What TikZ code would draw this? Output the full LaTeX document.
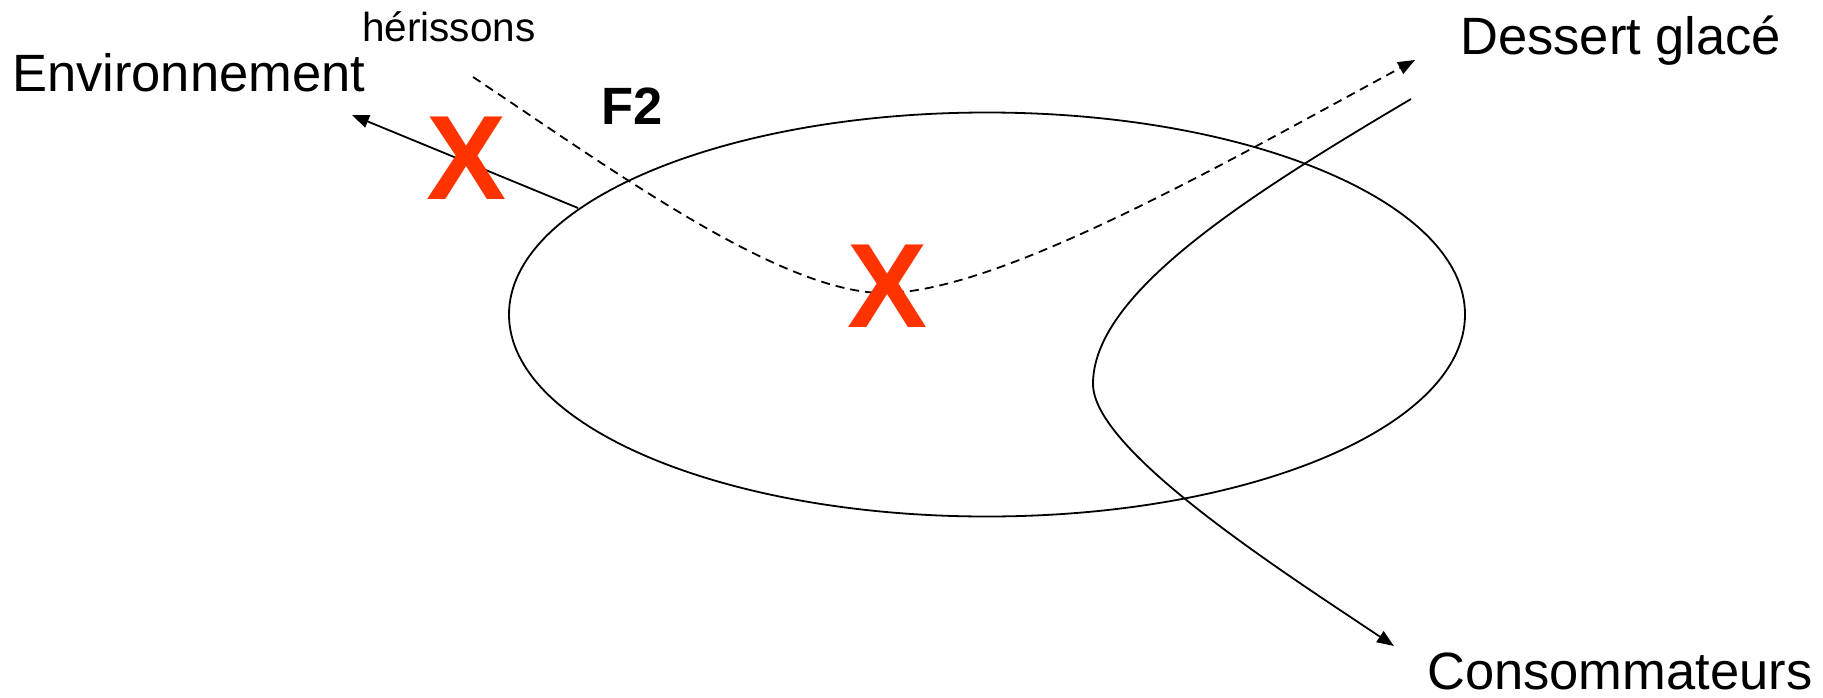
\documentclass[tikz,border=0pt]{standalone}
\usepackage{fontspec}
\setmainfont{Liberation Sans}
\usetikzlibrary{arrows.meta}
\definecolor{xred}{RGB}{255,51,0}
\tikzset{
  lbl/.style={inner sep=0pt, anchor=base west, font=\fontsize{52.5}{60}\selectfont},
  small/.style={inner sep=0pt, anchor=base west, font=\fontsize{40.5}{48}\selectfont},
  cross/.style={inner sep=0pt, text=xred, font=\fontsize{120}{124}\selectfont\bfseries},
  conn/.style={line width=1.8pt, -{Triangle[length=17pt,width=13pt]}},
  dsh/.style={conn, dash pattern=on 9pt off 6pt},
}
\begin{document}
\begin{tikzpicture}[x=1pt,y=-1pt]
\useasboundingbox (0,0) rectangle (1823,697);
% ellipse
\draw[line width=1.8pt] (987,314.5) ellipse [x radius=478, y radius=202];
% labels
\node[lbl] (env) at (12,91) {Environnement};
\node[small] (her) at (362,41) {hérissons};
\node[lbl, font=\fontsize{52.5}{60}\selectfont\bfseries] (f2) at (601,124) {F2};
\node[lbl] (des) at (1460,54) {Dessert glacé};
\node[lbl] (con) at (1427,689) {Consommateurs};
% coordinates
\coordinate (a0) at (578,208);
\coordinate (a1) at (352,115);
\coordinate (d0) at (473,77);
\coordinate (dm) at (884,293);
\coordinate (d1) at (1415,60);
\coordinate (c0) at (1411,99);
\coordinate (cm) at (1093,384);
\coordinate (c1) at (1394,646);
% connectors
\draw[conn] (a0) -- (a1);
\draw[dsh] (d0) .. controls (610,168) and (780,293) .. (dm)
           .. controls (1000,293) and (1230,160) .. (d1);
\draw[conn] (c0) .. controls (1240,200) and (1093,295) .. (cm)
           .. controls (1093,450) and (1280,570) .. (c1);
% crosses
\node[cross] (x1) at (467,158) {X};
\node[cross] (x2) at (888,286) {X};
\end{tikzpicture}
\end{document}
